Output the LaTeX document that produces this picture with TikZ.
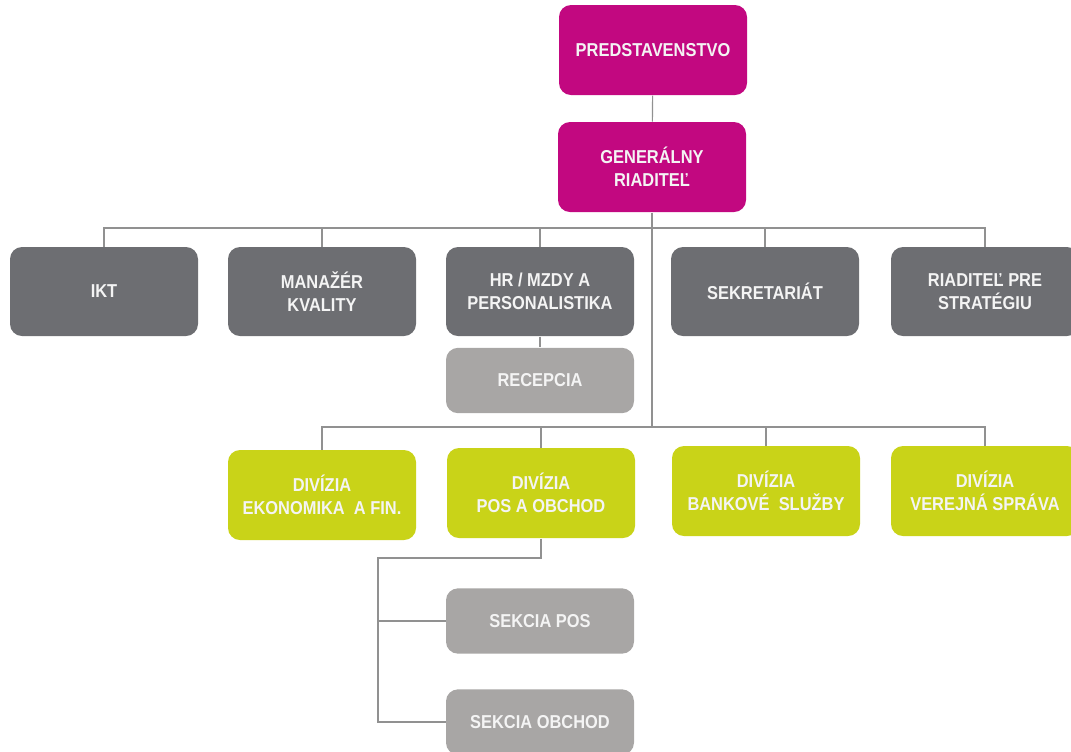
\documentclass[tikz,border=0pt]{standalone}
\usepackage{fontspec}
\setmainfont{Liberation Sans}[FakeStretch=0.88]

\definecolor{magentabox}{RGB}{194,8,128}
\definecolor{darkbox}{RGB}{109,110,114}
\definecolor{lightbox}{RGB}{168,166,165}
\definecolor{greenbox}{RGB}{201,211,24}
\definecolor{linegray}{RGB}{145,145,145}
\definecolor{boxtext}{RGB}{244,244,244}

\tikzset{every picture/.style={line width=0.75pt}}
\tikzset{
	unit/.style={rectangle, rounded corners=9pt, draw=none, text=boxtext, align=center,
		font=\bfseries\fontsize{14}{17.25}\selectfont, inner sep=2pt,
		minimum width=141pt, minimum height=67.5pt},
	topunit/.style={unit, fill=magentabox},
	staffunit/.style={unit, fill=darkbox, minimum height=66.75pt},
	subunit/.style={unit, fill=lightbox, minimum height=49pt},
	divunit/.style={unit, fill=greenbox},
	conn/.style={draw=linegray, line width=0.85pt}
}

\begin{document}
\begin{tikzpicture}[x=0.75pt,y=0.75pt,yscale=-1,xscale=1]
	\useasboundingbox (0,0) rectangle (1071,751);

	% Top management
	\node [topunit] (pred) at (653,50) {PREDSTAVENSTVO};
	\node [topunit] (gen) at (652,167) {GENERÁLNY\\RIADITEĽ};

	% Staff units
	\node [staffunit] (ikt) at (104,291.5) {IKT};
	\node [staffunit] (kval) at (322,291.5) {MANAŽÉR\\KVALITY};
	\node [staffunit] (hr) at (540,291.5) {HR / MZDY A\\PERSONALISTIKA};
	\node [staffunit] (sekr) at (765,291.5) {SEKRETARIÁT};
	\node [staffunit] (strat) at (985,291.5) {RIADITEĽ PRE\\STRATÉGIU};
	\node [subunit] (recep) at (540,380.5) {RECEPCIA};

	% Divisions
	\node [divunit] (ekon) at (322,495) {DIVÍZIA\\EKONOMIKA\ \ A FIN.};
	\node [divunit] (posobch) at (541,493) {DIVÍZIA\\POS A OBCHOD};
	\node [divunit] (bank) at (766,491) {DIVÍZIA\\BANKOVÉ\ \ SLUŽBY};
	\node [divunit] (verej) at (985,491) {DIVÍZIA\\VEREJNÁ SPRÁVA};

	% Sections
	\node [subunit] (sekpos) at (540,621) {SEKCIA POS};
	\node [subunit] (sekobch) at (540,722) {SEKCIA OBCHOD};

	% Bus lines
	\coordinate (bus1) at (652,228);
	\coordinate (bus2) at (652,427);
	\coordinate (brk) at (378,558);

	%Straight Lines
	\draw [conn] (pred) -- (gen);
	\draw [conn] (gen.south) -- (bus2);
	\draw [conn] (ikt.north) -- (ikt.north |- bus1) -- (strat.north |- bus1) -- (strat.north);
	\draw [conn] (kval.north |- bus1) -- (kval.north);
	\draw [conn] (hr.north |- bus1) -- (hr.north);
	\draw [conn] (sekr.north |- bus1) -- (sekr.north);
	\draw [conn] (hr) -- (recep);
	\draw [conn] (ekon.north) -- (ekon.north |- bus2) -- (verej.north |- bus2) -- (verej.north);
	\draw [conn] (posobch.north |- bus2) -- (posobch.north);
	\draw [conn] (bank.north |- bus2) -- (bank.north);
	\draw [conn] (posobch.south) |- (brk) |- (sekobch.west);
	\draw [conn] (brk |- sekpos.west) -- (sekpos.west);

\end{tikzpicture}
\end{document}
